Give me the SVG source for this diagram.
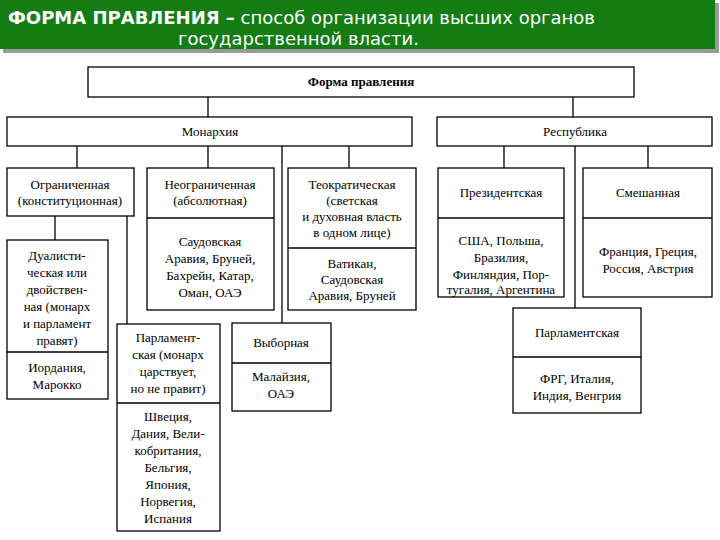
<svg xmlns="http://www.w3.org/2000/svg" width="720" height="540" viewBox="0 0 720 540">
<style>
.box{fill:#fff;stroke:#000;stroke-width:1.3}
.div{stroke:#000;stroke-width:1.3}
.t{font-family:'Liberation Serif',serif;font-size:13px;fill:#000;text-anchor:middle}
.b{font-weight:bold}
.hd{font-family:'DejaVu Sans',sans-serif;font-size:18px;fill:#fff}
#connectors line{stroke:#000;stroke-width:1.3}
</style>
<rect width="720" height="540" fill="#fff"/>
<g id="header">
<rect x="3" y="3" width="716" height="50" fill="#9a9a9a"/>
<rect x="0" y="0" width="715" height="49" fill="#137c13"/>
<text class="hd" x="8" y="24"><tspan font-weight="bold">ФОРМА ПРАВЛЕНИЯ –</tspan> способ организации высших органов</text>
<text class="hd" x="178" y="45">государственной власти.</text>
</g>
<g id="connectors">
<line x1="208" y1="97" x2="208" y2="117"/>
<line x1="573" y1="97" x2="573" y2="117"/>
<line x1="77" y1="146" x2="77" y2="168"/>
<line x1="208" y1="146" x2="208" y2="168"/>
<line x1="349" y1="146" x2="349" y2="168"/>
<line x1="282" y1="146" x2="282" y2="323"/>
<line x1="504" y1="146" x2="504" y2="168"/>
<line x1="648" y1="146" x2="648" y2="168"/>
<line x1="575" y1="146" x2="575" y2="308"/>
<line x1="55" y1="216" x2="55" y2="240"/>
<line x1="127" y1="216" x2="127" y2="324"/>
</g>
<g id="forma">
<rect class="box" x="88" y="67" width="546" height="30"/>
<text class="t b" x="361" y="86">Форма правления</text>
</g>
<g id="monarchy">
<rect class="box" x="7" y="117" width="405" height="29"/>
<text class="t" x="210" y="136">Монархия</text>
</g>
<g id="republic">
<rect class="box" x="437" y="117" width="275" height="29"/>
<text class="t" x="575" y="136">Республика</text>
</g>
<g id="limited">
<rect class="box" x="7" y="168" width="127" height="48"/>
<text class="t" x="70" y="189">Ограниченная</text>
<text class="t" x="70" y="205">(конституционная)</text>
</g>
<g id="absolute">
<rect class="box" x="147" y="168" width="127" height="142"/>
<line class="div" x1="147" y1="218" x2="274" y2="218"/>
<text class="t" x="210" y="189">Неограниченная</text>
<text class="t" x="210" y="205">(абсолютная)</text>
<text class="t" x="210" y="246">Саудовская</text>
<text class="t" x="210" y="263">Аравия, Бруней,</text>
<text class="t" x="210" y="280">Бахрейн, Катар,</text>
<text class="t" x="210" y="297">Оман, ОАЭ</text>
</g>
<g id="theocratic">
<rect class="box" x="288" y="168" width="128" height="142"/>
<line class="div" x1="288" y1="248" x2="416" y2="248"/>
<text class="t" x="352" y="189">Теократическая</text>
<text class="t" x="352" y="205">(светская</text>
<text class="t" x="352" y="221">и духовная власть</text>
<text class="t" x="352" y="237">в одном лице)</text>
<text class="t" x="352" y="268">Ватикан,</text>
<text class="t" x="352" y="284">Саудовская</text>
<text class="t" x="352" y="300">Аравия, Бруней</text>
</g>
<g id="dualistic">
<rect class="box" x="7" y="240" width="101" height="159"/>
<line class="div" x1="7" y1="352" x2="108" y2="352"/>
<text class="t" x="57" y="260">Дуалисти-</text>
<text class="t" x="57" y="277">ческая или</text>
<text class="t" x="57" y="294">двойствен-</text>
<text class="t" x="57" y="311">ная (монарх</text>
<text class="t" x="57" y="328">и парламент</text>
<text class="t" x="57" y="345">правят)</text>
<text class="t" x="57" y="372">Иордания,</text>
<text class="t" x="57" y="389">Марокко</text>
</g>
<g id="parl-monarchy">
<rect class="box" x="117" y="324" width="103" height="207"/>
<line class="div" x1="117" y1="403" x2="220" y2="403"/>
<text class="t" x="168" y="342">Парламент-</text>
<text class="t" x="168" y="359">ская (монарх</text>
<text class="t" x="168" y="376">царствует,</text>
<text class="t" x="168" y="393">но не правит)</text>
<text class="t" x="168" y="421">Швеция,</text>
<text class="t" x="168" y="438">Дания, Вели-</text>
<text class="t" x="168" y="455">кобритания,</text>
<text class="t" x="168" y="472">Бельгия,</text>
<text class="t" x="168" y="489">Япония,</text>
<text class="t" x="168" y="506">Норвегия,</text>
<text class="t" x="168" y="523">Испания</text>
</g>
<g id="elective">
<rect class="box" x="232" y="323" width="99" height="88"/>
<line class="div" x1="232" y1="363" x2="331" y2="363"/>
<text class="t" x="281" y="347">Выборная</text>
<text class="t" x="281" y="381">Малайзия,</text>
<text class="t" x="281" y="398">ОАЭ</text>
</g>
<g id="presidential">
<rect class="box" x="438" y="168" width="126" height="129"/>
<line class="div" x1="438" y1="218" x2="564" y2="218"/>
<text class="t" x="501" y="197">Президентская</text>
<text class="t" x="501" y="245">США, Польша,</text>
<text class="t" x="501" y="262">Бразилия,</text>
<text class="t" x="501" y="279">Финляндия, Пор-</text>
<text class="t" x="501" y="294">тугалия, Аргентина</text>
</g>
<g id="mixed">
<rect class="box" x="583" y="168" width="129" height="129"/>
<line class="div" x1="583" y1="218" x2="712" y2="218"/>
<text class="t" x="648" y="197">Смешанная</text>
<text class="t" x="648" y="256">Франция, Греция,</text>
<text class="t" x="648" y="273">Россия, Австрия</text>
</g>
<g id="parl-republic">
<rect class="box" x="513" y="308" width="128" height="105"/>
<line class="div" x1="513" y1="357" x2="641" y2="357"/>
<text class="t" x="577" y="337">Парламентская</text>
<text class="t" x="577" y="383">ФРГ, Италия,</text>
<text class="t" x="577" y="400">Индия, Венгрия</text>
</g>
</svg>
